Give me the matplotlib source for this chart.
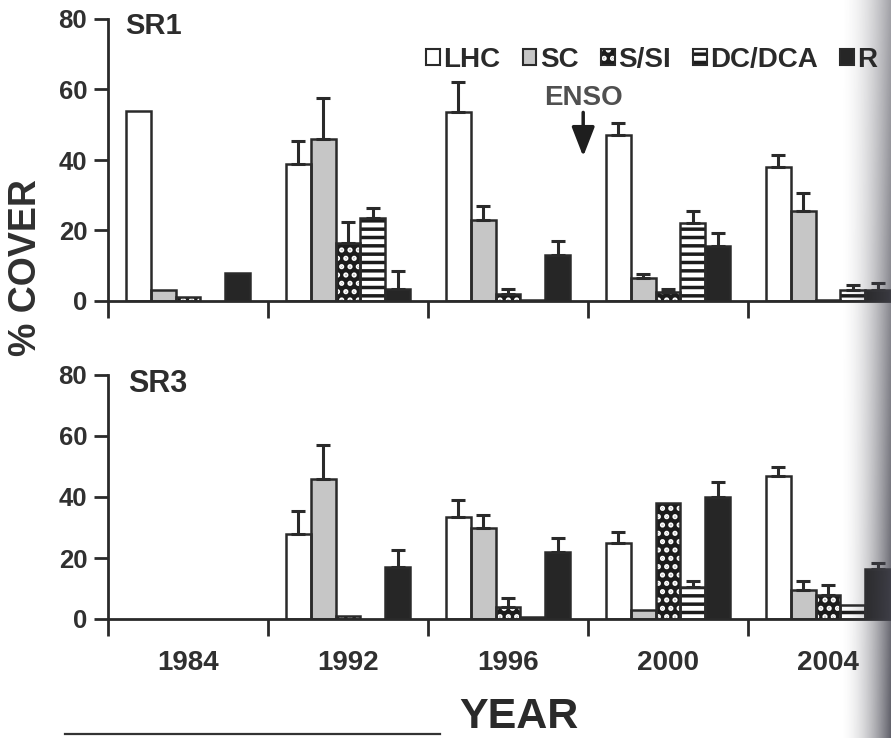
import matplotlib.pyplot as plt
import numpy as np
from matplotlib.lines import Line2D
from matplotlib.patches import Patch

plt.rcParams["font.family"] = ["Liberation Sans", "DejaVu Sans"]
plt.rcParams["font.weight"] = "bold"
plt.rcParams["hatch.linewidth"] = 2.5

years = ["1984", "1992", "1996", "2000", "2004"]
categories = ["LHC", "SC", "S/SI", "DC/DCA", "R"]

# SR1 (top panel): mean % cover and upper error per category
sr1_lhc = [54, 39, 53.5, 47, 38]
sr1_lhc_err = [0, 6.5, 8.5, 3.5, 3.5]
sr1_sc = [3, 46, 23, 6.5, 25.5]
sr1_sc_err = [0, 11.5, 4, 1.2, 5]
sr1_ssi = [1, 16.5, 2, 2.5, 0.3]
sr1_ssi_err = [0, 6, 1.5, 1, 0]
sr1_dc = [0, 23.5, 0.3, 22, 3]
sr1_dc_err = [0, 3, 0, 3.5, 1.5]
sr1_r = [8, 3.5, 13, 15.5, 3]
sr1_r_err = [0, 5, 4, 3.7, 2]

# SR3 (bottom panel)
sr3_lhc = [0, 28, 33.5, 25, 47]
sr3_lhc_err = [0, 7.5, 5.5, 3.5, 3]
sr3_sc = [0, 46, 30, 3, 9.5]
sr3_sc_err = [0, 11, 4, 0, 3]
sr3_ssi = [0, 1, 4, 38, 8]
sr3_ssi_err = [0, 0, 3, 0, 3]
sr3_dc = [0, 0, 0.5, 10.5, 4.5]
sr3_dc_err = [0, 0, 0, 2, 0]
sr3_r = [0, 17, 22, 40, 16.5]
sr3_r_err = [0, 5.5, 4.5, 5, 2]

INK = "#2a2a2a"
BAR_W = 0.156
styles = {
    "LHC": dict(face="white", hatch=None, hcolor=INK),
    "SC": dict(face="#c6c6c6", hatch=None, hcolor=INK),
    "S/SI": dict(face="#1c1c1c", hatch="..", hcolor="white"),
    "DC/DCA": dict(face="white", hatch="--", hcolor="#1c1c1c"),
    "R": dict(face="#262626", hatch=None, hcolor=INK),
}


def draw_panel(ax, means, errs):
    x = np.arange(len(years))
    for k, cat in enumerate(categories):
        st = styles[cat]
        pos = x + (k - 2) * BAR_W
        vals = np.array(means[k], dtype=float)
        err = np.array(errs[k], dtype=float)
        keep = vals > 0
        ax.bar(pos[keep], vals[keep], BAR_W, color=st["face"], edgecolor=st["hcolor"],
               hatch=st["hatch"], linewidth=0, zorder=2)
        ax.bar(pos[keep], vals[keep], BAR_W, fill=False, edgecolor=INK,
               linewidth=1.8, zorder=3)
        has = err > 0
        ax.errorbar(pos[has], vals[has], yerr=[np.zeros(has.sum()), err[has]],
                    fmt="none", ecolor=INK, elinewidth=2.2, capsize=5, capthick=2.2,
                    zorder=4)

    ax.set_xlim(-0.5, 5.0)
    ax.set_ylim(0, 80)
    for side in ("top", "right"):
        ax.spines[side].set_visible(False)
    for side in ("left", "bottom"):
        ax.spines[side].set_linewidth(2)
        ax.spines[side].set_color(INK)
    ax.set_yticks([0, 20, 40, 60, 80])
    ax.tick_params(axis="y", length=10, width=2, color=INK, labelsize=18.5,
                   labelcolor="#303030", pad=5)
    ax.set_xticks(x - 0.5)
    ax.set_xticklabels([])
    ax.tick_params(axis="x", which="major", length=12, width=2, color=INK)
    ax.patch.set_alpha(0)


fig = plt.figure(figsize=(8.91, 7.38), dpi=100)
ax1 = fig.add_axes([108 / 891, 1 - 301 / 738, 880 / 891, 282 / 738])
ax2 = fig.add_axes([108 / 891, 1 - 619 / 738, 880 / 891, 244 / 738])

draw_panel(ax1, [sr1_lhc, sr1_sc, sr1_ssi, sr1_dc, sr1_r],
           [sr1_lhc_err, sr1_sc_err, sr1_ssi_err, sr1_dc_err, sr1_r_err])
draw_panel(ax2, [sr3_lhc, sr3_sc, sr3_ssi, sr3_dc, sr3_r],
           [sr3_lhc_err, sr3_sc_err, sr3_ssi_err, sr3_dc_err, sr3_r_err])

# year labels only on the lower panel
ax2.set_xticks(np.arange(len(years)), minor=True)
ax2.set_xticklabels(years, minor=True)
ax2.tick_params(axis="x", which="minor", length=0, pad=22, labelsize=20,
                labelcolor="#303030")

fig.text(125 / 891, 1 - 26 / 738, "SR1", fontsize=21, va="center", color="#2d2d2d")
fig.text(128 / 891, 1 - 384 / 738, "SR3", fontsize=22, va="center", color="#2d2d2d")

# ENSO marker between 1996 and 2000
ax1.annotate("", xy=(2.47, 41), xytext=(2.47, 53.5),
             arrowprops=dict(arrowstyle="-|>,head_length=0.9,head_width=0.35",
                             lw=2.5, color="#1e1e1e", mutation_scale=20,
                             shrinkA=0, shrinkB=0))
ax1.text(2.47, 57.5, "ENSO", ha="center", va="center", fontsize=20, color="#505050")

handles = []
for cat in categories:
    st = styles[cat]
    handles.append((Patch(facecolor=st["face"], edgecolor=st["hcolor"],
                          hatch=st["hatch"], linewidth=0),
                    Patch(fill=False, edgecolor=INK, linewidth=1.5)))
fig.legend(handles, categories, loc="upper left",
           bbox_to_anchor=(426 / 891, 1 - 47 / 738), ncol=5, frameon=False,
           prop={"size": 20, "weight": "bold"}, labelcolor="#2a2a2a",
           handlelength=0.5, handleheight=0.5, handletextpad=0.12,
           columnspacing=0.8, borderpad=0, borderaxespad=0)

fig.text(26 / 891, 1 - 268 / 738, "% COVER", rotation=90, ha="center", va="center",
         fontsize=27, color="#303030")
fig.text(519 / 891, 1 / 738, "YEAR", ha="center", va="bottom",
         fontsize=31, color="#2a2a2a")
fig.add_artist(Line2D([65 / 891, 440 / 891], [1 - 734 / 738] * 2,
                      lw=1.6, color="#333333"))

# darkened page gutter on the right edge of the scan
gax = fig.add_axes([840 / 891, 0, 51 / 891, 1])
gax.axis("off")
xf = np.linspace(0, 1, 102)[None, :]
yf = np.linspace(0, 1, 200)[:, None]
shade = np.zeros((200, 102, 4))
shade[..., 0] = 0.27
shade[..., 1] = 0.27
shade[..., 2] = 0.31
shade[..., 3] = (xf ** 1.8) * (0.5 + 0.35 * yf)
gax.imshow(shade, aspect="auto", extent=(0, 1, 0, 1), origin="upper")

fig.savefig("out.png", dpi=100)
